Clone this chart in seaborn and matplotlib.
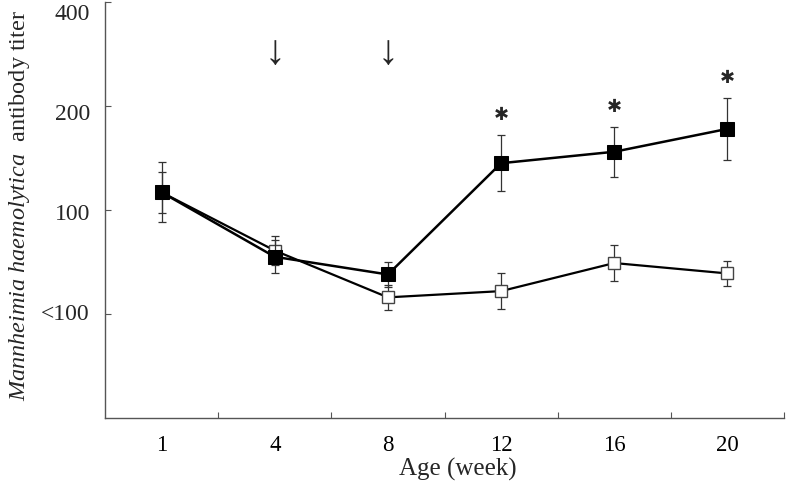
import pandas as pd
import matplotlib.pyplot as plt
import matplotlib.transforms as mtransforms
import seaborn as sns
from matplotlib.ticker import FixedLocator

sns.set_theme(style="ticks")
plt.rcParams.update({
    "font.family": ["Liberation Serif", "DejaVu Serif"],
    "mathtext.fontset": "custom",
    "mathtext.it": "Liberation Serif:italic",
    "mathtext.rm": "Liberation Serif",
    "axes.edgecolor": "#555555",
    "xtick.color": "#555555",
    "ytick.color": "#555555",
    "xtick.labelcolor": "black",
    "ytick.labelcolor": "black",
})

# age (week) categories
weeks = ["1", "4", "8", "12", "16", "20"]
# y in log2 steps: 1 = <100, 2 = 100, 3 = 200, 4 = 400
vaccinated_mean = [2.17, 1.55, 1.38, 2.45, 2.56, 2.78]
vaccinated_sd = [0.29, 0.16, 0.12, 0.27, 0.24, 0.30]
control_mean = [2.17, 1.61, 1.16, 1.22, 1.49, 1.39]
control_sd = [0.20, 0.14, 0.12, 0.17, 0.17, 0.12]
significant = [False, False, False, True, True, True]
vaccination_weeks = ["4", "8"]
y_ticks = [1, 2, 3, 4]
y_tick_labels = ["<100", "100", "200", "400"]

df = pd.DataFrame({
    "week": weeks * 2,
    "titer": vaccinated_mean + control_mean,
    "group": ["vaccinated"] * 6 + ["control"] * 6,
})

fig = plt.figure(figsize=(7.87, 4.86), dpi=100)
ax = fig.add_axes([105 / 787, 68 / 486, 679 / 787, 416 / 486])

# control (open squares)
ax.errorbar(weeks, control_mean, yerr=control_sd, fmt="none",
            ecolor="#333333", elinewidth=0.9, capsize=3, capthick=0.9, zorder=2)
sns.lineplot(data=df[df["group"] == "control"], x="week", y="titer",
             color="black", linewidth=1.6, marker="s", markersize=9,
             markerfacecolor="white", markeredgecolor="#444444",
             markeredgewidth=1.0, ax=ax, zorder=3)

# vaccinated (filled squares)
ax.errorbar(weeks, vaccinated_mean, yerr=vaccinated_sd, fmt="none",
            ecolor="#333333", elinewidth=0.9, capsize=3, capthick=0.9, zorder=4)
sns.lineplot(data=df[df["group"] == "vaccinated"], x="week", y="titer",
             color="black", linewidth=1.8, marker="s", markersize=10,
             markerfacecolor="black", markeredgecolor="black",
             ax=ax, zorder=5)

# significance marks
for w, m, s, sig in zip(weeks, vaccinated_mean, vaccinated_sd, significant):
    if sig:
        ax.text(w, m + s + 0.19, "✱", ha="center", va="center", fontsize=13,
                fontweight="bold", family=["DejaVu Sans"])

# vaccination arrows
for w in vaccination_weeks:
    ax.text(weeks.index(w), 3.5, "↓", ha="center", va="center", fontsize=30)

ax.set_xlim(-0.5, 5.5)
ax.set_ylim(0, 4)
ax.set_yticks(y_ticks)
ax.set_yticklabels([])
# reference labels sit slightly below their ticks, more so toward the top
for yv, lab, dy in zip(y_ticks, y_tick_labels, [0, 5, 9, 13]):
    tr = ax.get_yaxis_transform() + mtransforms.ScaledTranslation(
        -15 / 100, -dy / 100, fig.dpi_scale_trans)
    ax.text(0, yv, lab, transform=tr, ha="right", va="center", fontsize=17,
            clip_on=False)
ax.tick_params(axis="y", direction="in", length=4, width=0.8)
ax.tick_params(axis="x", which="major", length=0, labelsize=16.5, pad=12)
ax.xaxis.set_minor_locator(FixedLocator([0.5, 1.5, 2.5, 3.5, 4.5, 5.5]))
ax.tick_params(axis="x", which="minor", direction="in", length=4, width=0.8)
for sp in ["top", "right"]:
    ax.spines[sp].set_visible(False)
for sp in ["left", "bottom"]:
    ax.spines[sp].set_linewidth(1.0)

ax.set_xlabel("Age (week)", fontsize=18)
ax.xaxis.set_label_coords((458 - 105) / 679, -40 / 416)
ax.set_ylabel(r"$\mathit{Mannheimia\ haemolytica}$  antibody titer",
              fontsize=17.5)
ax.yaxis.set_label_coords(-73 / 679, 0.51)
if ax.get_legend():
    ax.get_legend().remove()

fig.savefig("out.png", dpi=100)
